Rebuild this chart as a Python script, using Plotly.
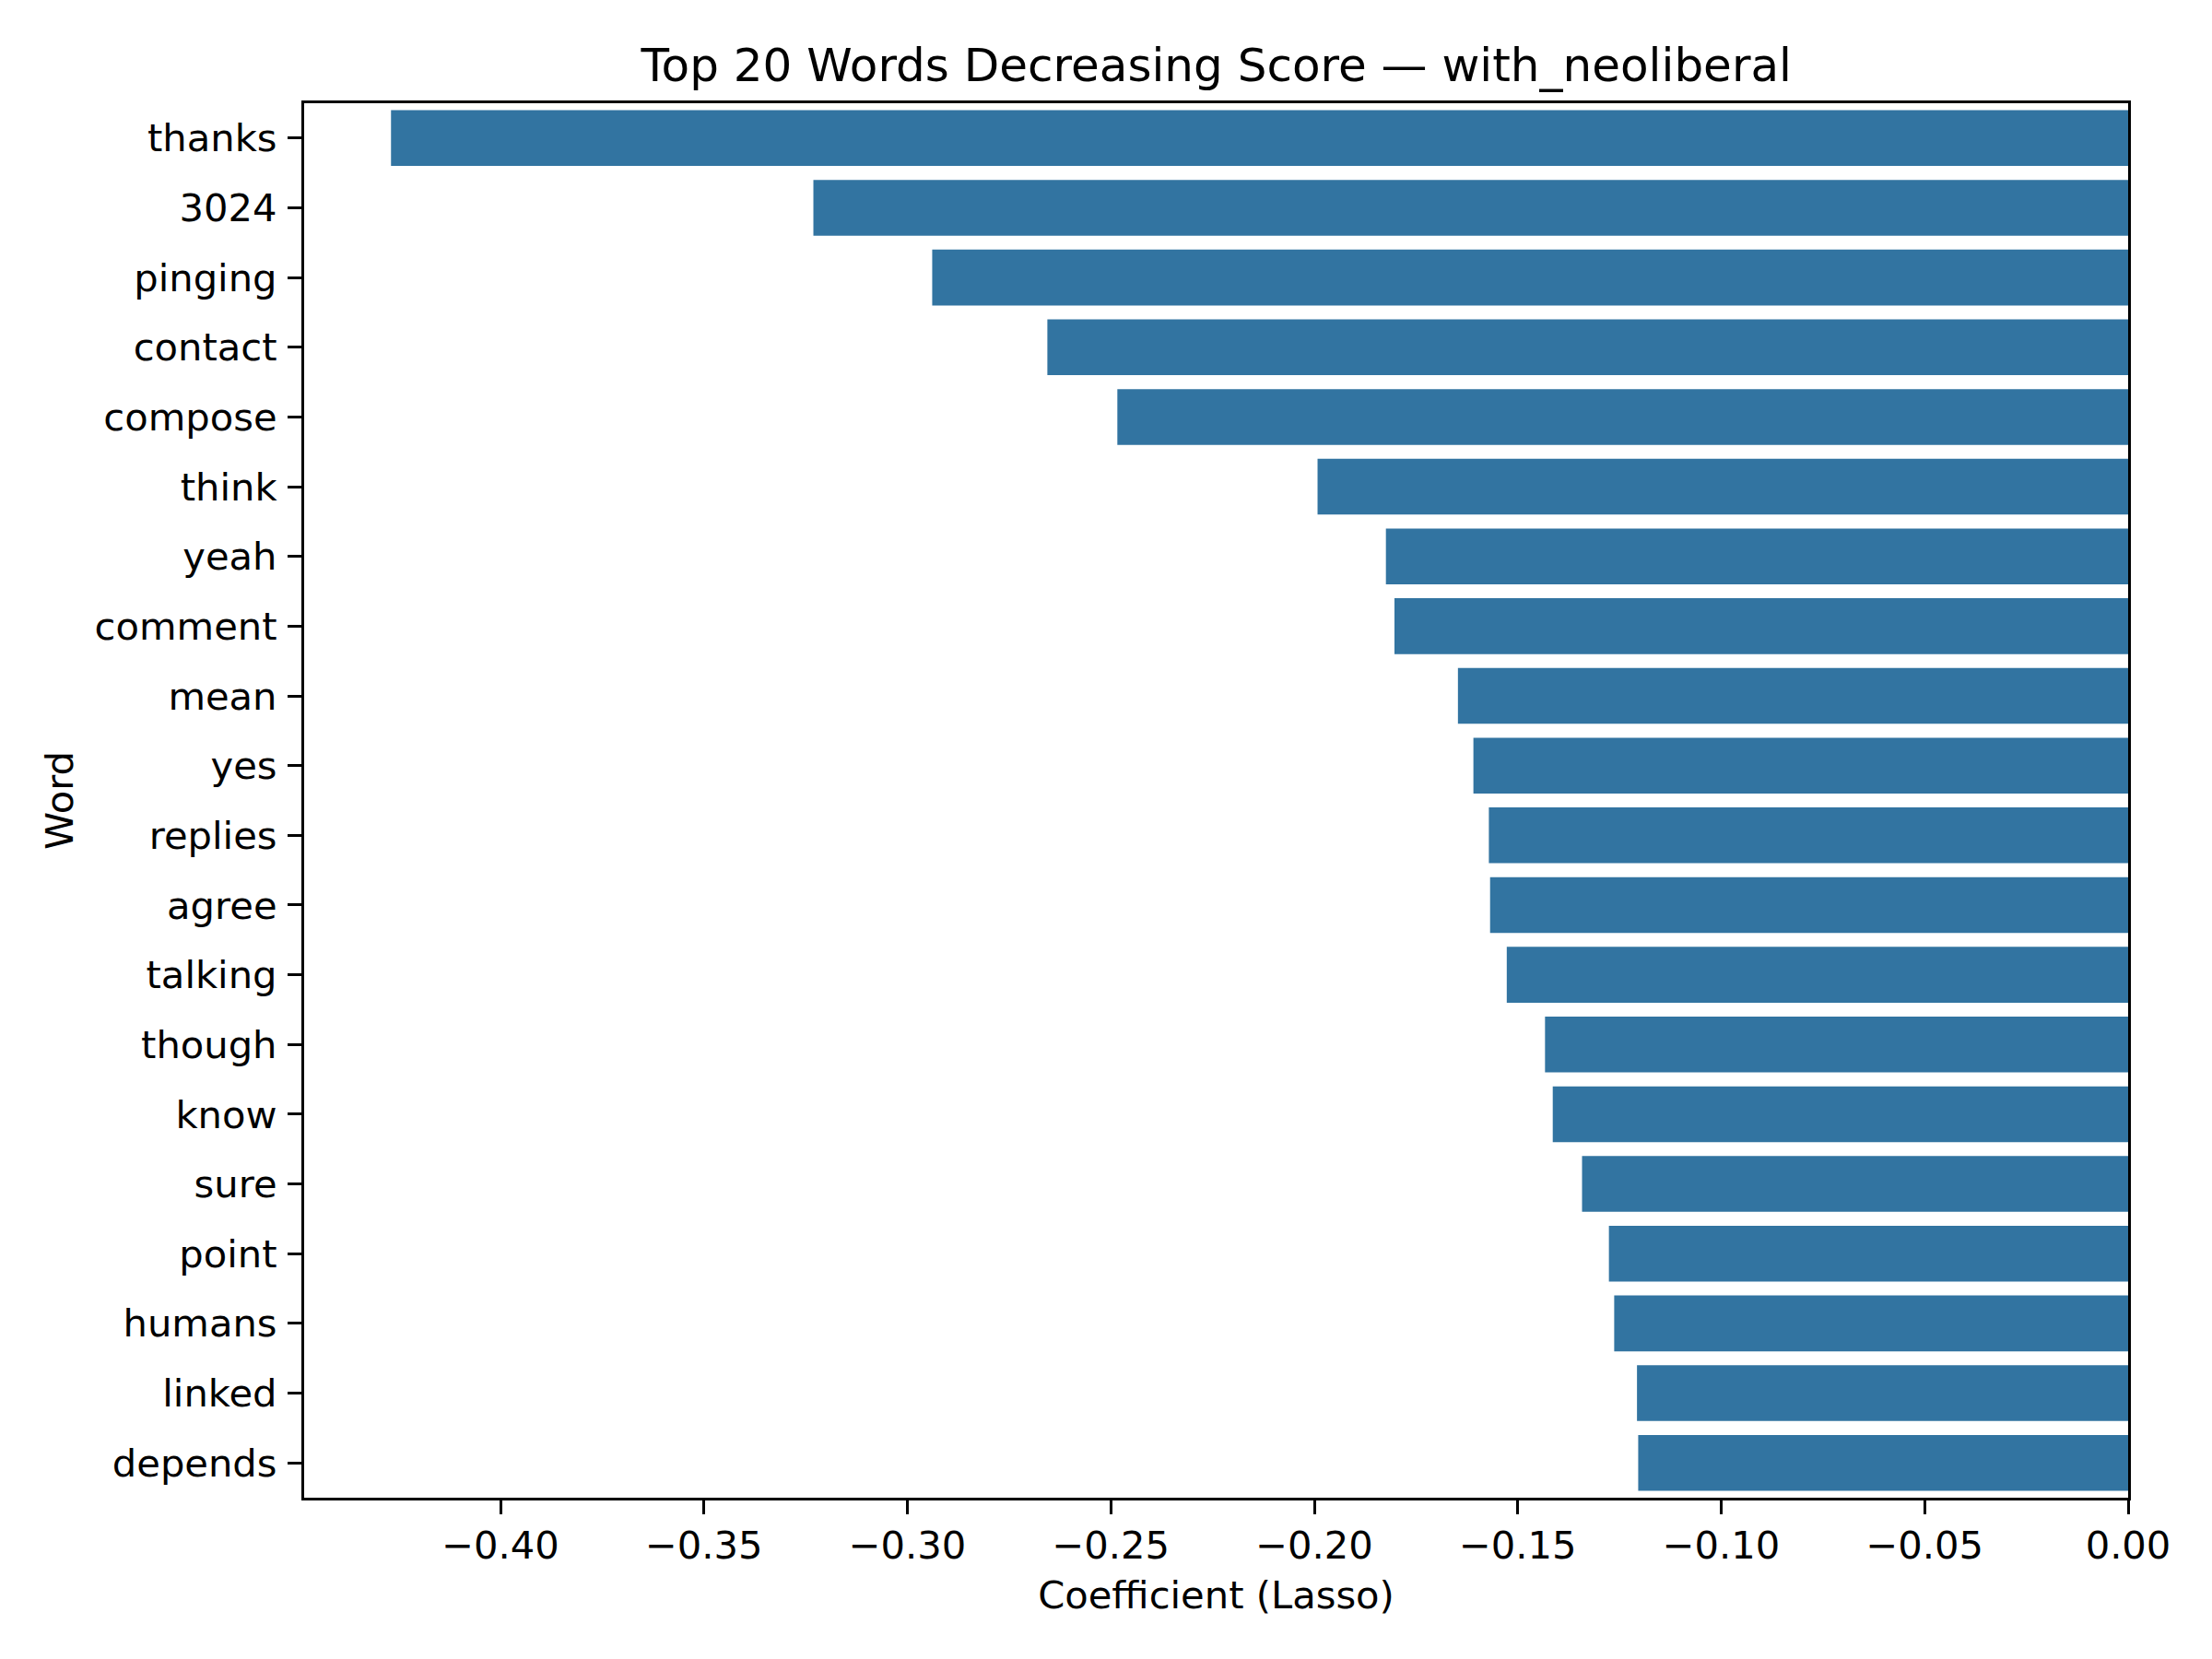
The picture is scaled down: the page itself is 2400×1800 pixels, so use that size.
import plotly.graph_objects as go

words = ["thanks", "3024", "pinging", "contact", "compose", "think", "yeah",
         "comment", "mean", "yes", "replies", "agree", "talking", "though",
         "know", "sure", "point", "humans", "linked", "depends"]
coefficients = [-0.4269, -0.3231, -0.2939, -0.2656, -0.2484, -0.1992, -0.1824,
                -0.1803, -0.1647, -0.1609, -0.1571, -0.1568, -0.1527, -0.1433,
                -0.1414, -0.1342, -0.1276, -0.1263, -0.1207, -0.1204]
x_tick_values = [-0.40, -0.35, -0.30, -0.25, -0.20, -0.15, -0.10, -0.05, 0.00]
x_tick_labels = ["\u22120.40", "\u22120.35", "\u22120.30", "\u22120.25", "\u22120.20",
                 "\u22120.15", "\u22120.10", "\u22120.05", "0.00"]

FONT = "DejaVu Sans"
W, H = 2400, 1800
OFF = 8  # page body margin
L, R, T, B = 330 - OFF, 2309.5 - OFF, 111.5 - OFF, 1625.5 - OFF

fig = go.Figure(go.Bar(
    x=coefficients, y=words, orientation="h",
    marker=dict(color="#3274A1", line=dict(width=0)),
))

xmin = min(coefficients) * 1.05

fig.update_layout(
    width=W, height=H, autosize=False,
    margin=dict(l=L, r=W - R, t=T, b=H - B, pad=0),
    paper_bgcolor="white", plot_bgcolor="white",
    font=dict(family=FONT, size=41.67, color="black"),
    bargap=0.2, showlegend=False,
    title=dict(text="Top 20 Words Decreasing Score \u2014 with_neoliberal",
               x=(L + R) / 2 / W, xanchor="center",
               y=1 - (70 - OFF) / H, yanchor="middle", yref="container",
               font=dict(family=FONT, size=50, color="black")),
)

fig.update_xaxes(
    range=[xmin, 0], tickvals=x_tick_values, ticktext=x_tick_labels,
    showgrid=False, zeroline=False,
    showline=True, linecolor="black", linewidth=3.3, mirror=True,
    ticks="outside", ticklen=15, tickwidth=3.3, tickcolor="black",
    ticklabelstandoff=-2,
    tickfont=dict(family=FONT, size=41.67, color="black"),
    title=dict(text="Coefficient (Lasso)", standoff=16,
               font=dict(family=FONT, size=41.67, color="black")),
)

fig.update_yaxes(
    type="category", categoryorder="array", categoryarray=words,
    range=[len(words) - 0.5, -0.5],
    showgrid=False, zeroline=False,
    showline=True, linecolor="black", linewidth=3.3, mirror=True,
    ticks="outside", ticklen=15, tickwidth=3.3, tickcolor="black",
    ticklabelstandoff=3,
    tickfont=dict(family=FONT, size=41.67, color="black"),
    title=dict(text="Word", standoff=11,
               font=dict(family=FONT, size=41.67, color="black")),
)

fig.write_html("out.html")
